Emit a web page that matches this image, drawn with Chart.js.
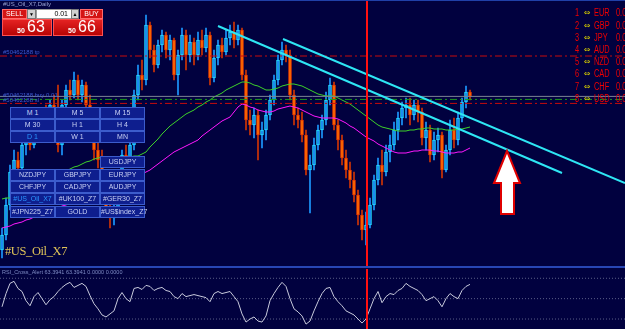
<!DOCTYPE html>
<html><head><meta charset="utf-8">
<script src="https://cdn.jsdelivr.net/npm/chart.js@4.4.0/dist/chart.umd.min.js"></script>
<style>
html,body{margin:0;padding:0;background:#01013f;width:625px;height:329px;overflow:hidden;position:relative;font-family:"Liberation Sans",Arial,sans-serif;}
canvas{position:absolute;left:0;}
#main{top:0;}
#rsi{top:269px;}
.t{position:absolute;white-space:nowrap;}
.btn{position:absolute;width:43px;height:10px;background:#0e1e8e;border:1px solid #3c5ccc;color:#c8d0f4;font-size:7px;line-height:10px;text-align:center;}
.sel{color:#2a96ff;}
.cur{position:absolute;font-size:10px;line-height:12px;color:#f00000;white-space:nowrap;transform:scaleX(0.74);transform-origin:0 0;}
.ic{position:absolute;font-family:"DejaVu Sans",sans-serif;font-size:8px;line-height:12px;color:#d0c800;}
.tiny{position:absolute;font-size:6px;line-height:7px;color:#3c5ad0;white-space:nowrap;}
</style></head>
<body>
<canvas id="main" width="625" height="267"></canvas>
<div class="t" style="left:0;top:0;width:625px;height:1px;background:#2040a8"></div>
<div class="t" style="left:0;top:266px;width:625px;height:2px;background:#2846b4"></div>
<canvas id="rsi" width="625" height="60"></canvas>

<!-- title and trade panel -->
<div class="t" style="left:3px;top:1px;font-size:6px;line-height:7px;color:#9aa4d4">#US_Oil_X7,Daily</div>
<div class="t" style="left:2px;top:9px;width:23px;height:8px;background:#d41414;border:1px solid #ff6a6a;color:#fff;font-size:7px;line-height:8px;text-align:center">SELL</div>
<div class="t" style="left:27px;top:9px;width:7px;height:8px;background:#d0d0d0;border:1px solid #7a7a7a;color:#000;font-size:5px;line-height:8px;text-align:center">▼</div>
<div class="t" style="left:36px;top:9px;width:31px;height:8px;background:#fff;border:1px solid #9a9a9a;color:#000;font-size:7px;line-height:8px;text-align:right;padding-right:3px">0.01</div>
<div class="t" style="left:71px;top:9px;width:6px;height:8px;background:#d0d0d0;border:1px solid #7a7a7a;color:#000;font-size:5px;line-height:8px;text-align:center">▲</div>
<div class="t" style="left:80px;top:9px;width:21px;height:8px;background:#d41414;border:1px solid #ff6a6a;color:#fff;font-size:7px;line-height:8px;text-align:center">BUY</div>
<div class="t" style="left:2px;top:19px;width:48px;height:15px;background:linear-gradient(#e42222,#b80404);border:1px solid #ff5050"></div>
<div class="t" style="left:53px;top:19px;width:48px;height:15px;background:linear-gradient(#e42222,#b80404);border:1px solid #ff5050"></div>
<div class="t" style="left:17px;top:27px;font-size:7px;line-height:7px;color:#fff;font-weight:bold">50</div>
<div class="t" style="left:27px;top:18px;font-size:16px;line-height:17px;color:#fff">63</div>
<div class="t" style="left:68px;top:27px;font-size:7px;line-height:7px;color:#fff;font-weight:bold">50</div>
<div class="t" style="left:78px;top:18px;font-size:16px;line-height:17px;color:#fff">66</div>

<!-- order labels -->
<div class="tiny" style="left:3px;top:49px">#50462188 tp</div>
<div class="tiny" style="left:3px;top:92px">#50462188 buy 0.01</div>
<div class="tiny" style="left:3px;top:97px">#50462188 sl</div>

<!-- currency list -->
<div class="cur" style="left:575px;top:7px">1</div><div class="ic" style="left:584px;top:7px">⇔</div><div class="cur" style="left:594px;top:7px">EUR</div><div class="cur" style="left:616px;top:7px">0.0</div>
<div class="cur" style="left:575px;top:20px">2</div><div class="ic" style="left:584px;top:20px">⇔</div><div class="cur" style="left:594px;top:20px">GBP</div><div class="cur" style="left:616px;top:20px">0.0</div>
<div class="cur" style="left:575px;top:32px">3</div><div class="ic" style="left:584px;top:32px">⇔</div><div class="cur" style="left:594px;top:32px">JPY</div><div class="cur" style="left:616px;top:32px">0.0</div>
<div class="cur" style="left:575px;top:44px">4</div><div class="ic" style="left:584px;top:44px">⇔</div><div class="cur" style="left:594px;top:44px">AUD</div><div class="cur" style="left:616px;top:44px">0.0</div>
<div class="cur" style="left:575px;top:56px">5</div><div class="ic" style="left:584px;top:56px">⇔</div><div class="cur" style="left:594px;top:56px">NZD</div><div class="cur" style="left:616px;top:56px">0.0</div>
<div class="cur" style="left:575px;top:68px">6</div><div class="ic" style="left:584px;top:68px">⇔</div><div class="cur" style="left:594px;top:68px">CAD</div><div class="cur" style="left:616px;top:68px">0.0</div>
<div class="cur" style="left:575px;top:81px">7</div><div class="ic" style="left:584px;top:81px">⇔</div><div class="cur" style="left:594px;top:81px">CHF</div><div class="cur" style="left:616px;top:81px">0.0</div>
<div class="cur" style="left:575px;top:93px">8</div><div class="ic" style="left:584px;top:93px">⇔</div><div class="cur" style="left:594px;top:93px">USD</div><div class="cur" style="left:616px;top:93px">0.0</div>

<!-- timeframe / symbol buttons -->
<div class="btn" style="left:10px;top:107px">M 1</div><div class="btn" style="left:55px;top:107px">M 5</div><div class="btn" style="left:100px;top:107px">M 15</div>
<div class="btn" style="left:10px;top:119px">M 30</div><div class="btn" style="left:55px;top:119px">H 1</div><div class="btn" style="left:100px;top:119px">H 4</div>
<div class="btn sel" style="left:10px;top:131px">D 1</div><div class="btn" style="left:55px;top:131px">W 1</div><div class="btn" style="left:100px;top:131px">MN</div>
<div class="btn" style="left:100px;top:156px">USDJPY</div>
<div class="btn" style="left:10px;top:169px">NZDJPY</div><div class="btn" style="left:55px;top:169px">GBPJPY</div><div class="btn" style="left:100px;top:169px">EURJPY</div>
<div class="btn" style="left:10px;top:181px">CHFJPY</div><div class="btn" style="left:55px;top:181px">CADJPY</div><div class="btn" style="left:100px;top:181px">AUDJPY</div>
<div class="btn sel" style="left:10px;top:193px">#US_Oil_X7</div><div class="btn" style="left:55px;top:193px">#UK100_Z7</div><div class="btn" style="left:100px;top:193px">#GER30_Z7</div>
<div class="btn" style="left:10px;top:206px">#JPN225_Z7</div><div class="btn" style="left:55px;top:206px">GOLD</div><div class="btn" style="left:100px;top:206px">#US$index_Z7</div>

<div class="t" style="left:5px;top:244px;font-family:'Liberation Serif',serif;font-size:12.5px;line-height:14px;color:#e0c458;letter-spacing:-0.4px">#US_Oil_X7</div>
<div class="t" style="left:2px;top:269px;font-size:5.5px;line-height:7px;color:#7f8cc4">RSI_Cross_Alert 63.3941 63.3941 0.0000 0.0000</div>

<svg style="position:absolute;left:0;top:0" width="625" height="329">
<polygon points="507,151 520,183 514,183 514,214 501,214 501,183 494,183" fill="#ffffff" stroke="#e00000" stroke-width="2"/>
</svg>

<script>
// ---- data (US Oil X7, daily) ----
const open = [
42.95,43.70,45.20,46.85,47.45,47.05,48.20,48.55,48.20,49.20,
48.95,49.70,49.45,50.20,49.95,48.20,50.20,50.95,50.70,51.45,
50.70,51.20,50.20,49.45,47.95,47.45,46.20,44.95,44.55,45.05,
45.95,47.70,47.45,48.20,50.70,51.70,51.45,54.20,52.95,52.20,
53.20,53.70,52.95,53.45,51.70,52.70,53.70,52.70,53.35,52.70,
53.45,53.05,53.70,51.55,52.55,53.20,52.85,53.55,53.85,53.45,
53.95,51.70,49.45,49.20,49.70,48.70,48.95,49.70,50.45,51.45,
52.45,52.95,52.70,50.70,49.70,49.45,48.70,46.95,47.20,48.20,
48.95,49.45,50.45,51.20,49.20,48.45,47.55,46.95,46.45,45.70,
44.70,43.95,44.20,45.20,46.45,47.20,46.85,47.85,48.20,48.95,
49.55,50.05,50.20,49.70,50.20,49.85,48.55,48.95,47.70,48.45,
48.70,46.95,47.95,48.95,48.45,49.55,50.35,50.85];
const high = [
44.05,45.55,47.20,47.95,47.85,48.45,48.95,49.05,49.45,49.70,
49.95,50.20,50.45,50.70,51.20,50.45,51.20,51.45,51.85,51.70,
51.45,51.35,50.70,49.70,48.45,47.95,46.45,45.45,45.20,46.20,
47.95,48.20,48.45,50.95,52.20,52.45,54.70,54.35,53.20,53.45,
53.95,53.85,53.70,53.55,52.95,54.05,53.95,53.70,53.55,53.85,
53.95,54.05,53.85,52.95,53.45,53.55,53.95,54.20,54.35,54.20,
54.05,51.95,49.95,50.05,49.95,49.35,49.95,50.70,51.70,52.70,
53.35,53.20,52.95,50.95,50.05,49.85,48.95,47.70,48.55,49.20,
49.70,50.85,51.55,51.35,49.45,48.70,47.95,47.35,46.85,45.95,
44.95,44.85,45.55,46.70,47.55,47.95,48.20,48.70,49.35,49.85,
50.35,50.55,50.55,50.45,50.45,50.05,49.35,49.20,48.85,49.05,
48.85,48.20,49.45,49.55,49.85,50.55,51.15,50.95];
const low = [
42.55,43.45,44.95,46.45,46.70,46.85,47.70,47.95,48.05,48.70,
48.85,49.20,49.35,49.70,47.85,47.70,49.95,50.45,50.55,50.45,
50.35,49.95,49.20,47.45,47.05,45.95,44.70,44.05,44.20,44.85,
45.70,47.20,47.35,47.95,50.45,50.95,51.20,52.55,51.85,52.05,
52.85,52.55,52.45,51.45,50.70,52.45,51.95,52.35,52.20,52.45,
52.70,52.85,51.20,51.35,52.20,52.55,52.70,53.20,53.05,53.20,
51.45,48.95,48.70,48.55,47.45,48.05,48.45,49.45,50.20,51.20,
52.20,52.35,50.45,49.20,49.05,48.35,46.70,44.80,46.95,47.95,
48.55,49.20,50.20,48.95,47.95,47.20,46.55,46.05,45.35,44.20,
43.45,43.20,44.05,44.95,46.20,46.20,46.65,47.35,47.95,48.45,
49.20,49.55,49.20,49.45,49.35,48.20,47.95,47.35,47.45,47.85,
46.55,46.85,47.70,48.05,48.20,49.35,50.05,50.45];
const close = [
43.70,45.20,46.85,47.45,47.05,48.20,48.55,48.20,49.20,48.95,
49.70,49.45,50.20,49.95,48.20,50.20,50.95,50.70,51.45,50.70,
51.20,50.20,49.45,47.95,47.45,46.20,44.95,44.55,45.05,45.95,
47.70,47.45,48.20,50.70,51.70,51.45,54.20,52.95,52.20,53.20,
53.70,52.95,53.45,51.70,52.70,53.70,52.70,53.35,52.70,53.45,
53.05,53.70,51.55,52.55,53.20,52.85,53.55,53.85,53.45,53.95,
51.70,49.45,49.20,49.70,48.70,48.95,49.70,50.45,51.45,52.45,
52.95,52.70,50.70,49.70,49.45,48.70,46.95,47.20,48.20,48.95,
49.45,50.45,51.20,49.20,48.45,47.55,46.95,46.45,45.70,44.70,
43.95,44.20,45.20,46.45,47.20,46.85,47.85,48.20,48.95,49.55,
50.05,50.20,49.70,50.20,49.85,48.55,48.95,47.70,48.45,48.70,
46.95,47.95,48.95,48.45,49.55,50.35,50.85,50.63];
const maSlow = [
45.50,45.55,45.55,45.65,45.70,45.80,45.90,46.00,46.10,46.20,
46.30,46.45,46.55,46.65,46.75,46.85,46.90,47.00,47.10,47.15,
47.25,47.35,47.40,47.50,47.55,47.60,47.60,47.60,47.60,47.60,
47.60,47.60,47.60,47.65,47.65,47.75,47.85,48.10,48.30,48.50,
48.75,48.95,49.15,49.30,49.45,49.60,49.75,49.85,49.95,50.10,
50.20,50.35,50.45,50.60,50.70,50.80,50.95,51.05,51.15,51.25,
51.35,51.35,51.30,51.20,51.15,51.05,50.95,50.95,51.00,51.05,
51.15,51.20,51.25,51.25,51.20,51.15,51.05,50.95,50.85,50.75,
50.70,50.65,50.65,50.65,50.55,50.45,50.35,50.25,50.10,49.95,
49.80,49.65,49.50,49.35,49.20,49.10,49.05,49.00,48.95,48.90,
48.90,48.90,48.95,48.95,49.00,49.00,49.05,49.05,49.00,49.00,
49.00,48.95,48.95,48.95,49.00,49.00,49.05,49.10];
const maLong = [
44.05,44.10,44.15,44.25,44.30,44.35,44.45,44.50,44.60,44.65,
44.75,44.80,44.90,45.00,45.05,45.15,45.20,45.30,45.40,45.45,
45.55,45.60,45.70,45.80,45.85,45.95,46.05,46.10,46.20,46.25,
46.35,46.45,46.50,46.60,46.65,46.75,46.85,46.95,47.10,47.25,
47.40,47.55,47.70,47.85,47.95,48.05,48.15,48.25,48.35,48.45,
48.65,48.80,48.95,49.10,49.25,49.40,49.50,49.60,49.85,50.10,
50.25,50.20,50.10,50.05,49.95,49.90,49.85,49.85,49.90,50.00,
50.05,50.10,50.15,50.10,50.05,49.95,49.85,49.75,49.65,49.60,
49.55,49.55,49.55,49.55,49.50,49.40,49.30,49.15,49.05,48.90,
48.75,48.60,48.50,48.40,48.25,48.15,48.05,47.95,47.85,47.80,
47.80,47.80,47.85,47.90,47.90,47.95,47.95,47.95,47.90,47.90,
47.85,47.80,47.80,47.80,47.85,47.85,47.95,48.05];
const rsiValues = [
42,55,65,67,60,57,48,43,52,56,
50,44,49,52,57,61,64,66,61,63,
65,62,53,45,40,34,32,35,38,50,
56,50,47,60,61,59,63,62,58,60,
61,58,57,52,50,55,52,53,54,53,
52,51,47,55,57,55,56,57,52,47,
35,27,30,32,28,27,33,48,55,61,
66,62,50,40,37,33,25,28,38,47,
55,60,61,52,47,43,38,36,34,30,
26,30,40,50,57,46,52,55,54,58,
60,65,62,60,58,54,48,50,52,48,
42,50,55,52,50,58,62,64];
const rsiLevels = [70, 50, 30];
const tpPrice = 52.65, bidPrice = 50.63, buyPrice = 50.48, slPrice = 50.28;
const trendUpperStart = [70.25, 53.50], trendUpperEnd = [155.75, 46.30];
const trendLowerStart = [54, 54.15], trendLowerEnd = [140, 46.80];
const separatorBar = 91.25;

// ---- view ----
const X_MIN = -0.5, X_MAX = 155.75;
const P_MIN = 42.10, P_MAX = 55.45;
const R_MIN = 20.2, R_MAX = 79.1;
const idx = close.map((_, i) => i);
const up = i => close[i] >= open[i];

const hLine = (v, color, dash) => ({
  type: 'line', data: [{x: X_MIN, y: v}, {x: X_MAX, y: v}],
  borderColor: color, borderWidth: 1, borderDash: dash, pointRadius: 0, order: 2
});
const seg = (a, b, color, w, order) => ({
  type: 'line', data: [{x: a[0], y: a[1]}, {x: b[0], y: b[1]}],
  borderColor: color, borderWidth: w, pointRadius: 0, order: order
});

new Chart(document.getElementById('main'), {
  type: 'bar',
  data: { datasets: [
    { type: 'bar', data: idx.map(i => ({x: i, y: [low[i], high[i]]})),
      backgroundColor: idx.map(i => up(i) ? '#1c98ff' : '#d03404'),
      barThickness: 1, grouped: false, order: 6 },
    { type: 'bar', data: idx.map(i => ({x: i, y: [open[i], close[i]]})),
      backgroundColor: idx.map(i => up(i) ? '#1a80f0' : '#ff6a00'),
      borderColor: idx.map(i => up(i) ? '#22e0ff' : '#e83a00'),
      borderWidth: 1, borderSkipped: false, barThickness: 3, grouped: false, order: 5 },
    { type: 'line', data: idx.map(i => ({x: i, y: maSlow[i]})), borderColor: '#3ed22a', borderWidth: 1, pointRadius: 0, tension: 0, order: 4 },
    { type: 'line', data: idx.map(i => ({x: i, y: maLong[i]})), borderColor: '#ff18ff', borderWidth: 1, pointRadius: 0, tension: 0, order: 4 },
    hLine(tpPrice, '#c80c0c', [7, 3, 2, 3]),
    hLine(bidPrice, '#7c8494', []),
    hLine(buyPrice, '#1c9a1c', [7, 3, 2, 3]),
    hLine(slPrice, '#c80c0c', [7, 3, 2, 3]),
    seg(trendUpperStart, trendUpperEnd, '#2ee6f4', 2, 1),
    seg(trendLowerStart, trendLowerEnd, '#2ee6f4', 2, 1),
    seg([separatorBar, P_MIN], [separatorBar, P_MAX], '#ff1010', 2, 0)
  ]},
  options: {
    responsive: false, animation: false, devicePixelRatio: 1, events: [],
    layout: { padding: 0 },
    plugins: { legend: { display: false }, tooltip: { enabled: false } },
    scales: {
      x: { type: 'linear', min: X_MIN, max: X_MAX, offset: false, display: false },
      y: { min: P_MIN, max: P_MAX, display: false }
    }
  }
});

new Chart(document.getElementById('rsi'), {
  type: 'line',
  data: { datasets: [
    ...rsiLevels.map(v => ({ data: [{x: X_MIN, y: v}, {x: X_MAX, y: v}], borderColor: '#5a5e86', borderWidth: 1, borderDash: [1, 2], pointRadius: 0, order: 3 })),
    { data: idx.map(i => ({x: i, y: rsiValues[i]})), borderColor: '#c8cadc', borderWidth: 1, pointRadius: 0, tension: 0, order: 2 },
    { data: [{x: separatorBar, y: R_MIN}, {x: separatorBar, y: R_MAX}], borderColor: '#ff1010', borderWidth: 2, pointRadius: 0, order: 1 }
  ]},
  options: {
    responsive: false, animation: false, devicePixelRatio: 1, events: [],
    layout: { padding: 0 },
    plugins: { legend: { display: false }, tooltip: { enabled: false } },
    scales: {
      x: { type: 'linear', min: X_MIN, max: X_MAX, display: false },
      y: { min: R_MIN, max: R_MAX, display: false }
    }
  }
});
</script>
</body></html>
